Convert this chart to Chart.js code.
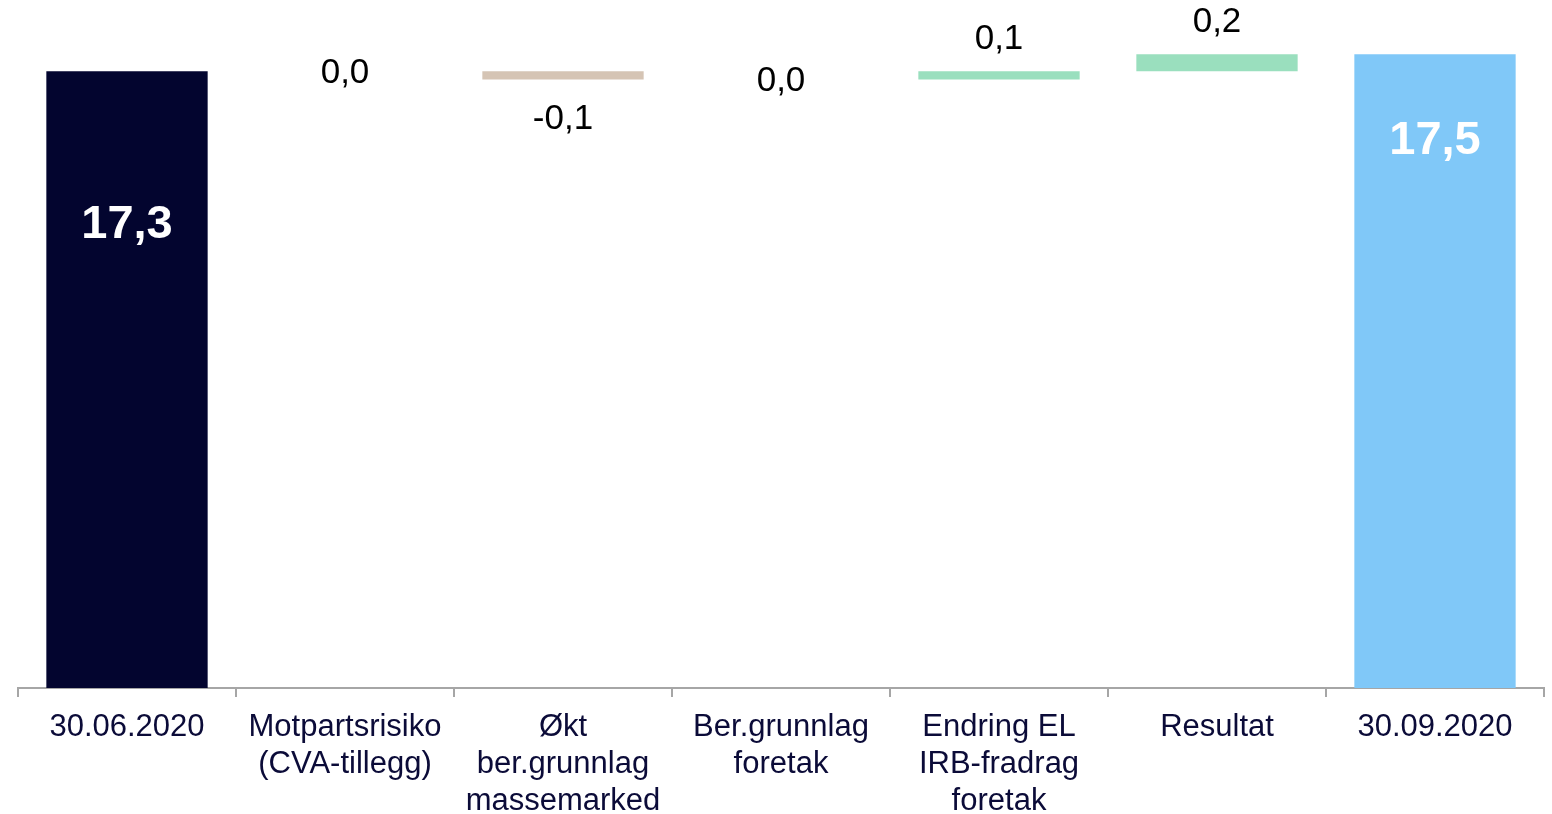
<!DOCTYPE html>
<html lang="no">
<head>
    <meta charset="UTF-8">
    <title>Kapitaldekning</title>
    <style>
        html, body { margin: 0; padding: 0; background: #fff; }
        #wrap { width: 1552px; height: 814px; }
    </style>
</head>
<body>
    <div id="wrap"><canvas id="chart"></canvas></div>

    <script src="https://cdn.jsdelivr.net/npm/chart.js"></script>
    <script>
        // data
        var categories = [
            '30.06.2020',
            ['Motpartsrisiko', '(CVA-tillegg)'],
            ['Økt', 'ber.grunnlag', 'massemarked'],
            ['Ber.grunnlag', 'foretak'],
            ['Endring EL', 'IRB-fradrag', 'foretak'],
            'Resultat',
            '30.09.2020'
        ];
        var values = [17.3, 0.0, -0.1, 0.0, 0.1, 0.2, 17.5];
        var isTotal = [true, false, false, false, false, false, true];
        var yMin = 10;
        var yMax = 18;

        var navy = '#03052f';
        var lightBlue = '#80c8f8';
        var green = '#9adfbe';
        var beige = '#d5c4b4';

        // build floating bars for the waterfall
        var ranges = [];
        var colors = [];
        var running = 0;
        values.forEach(function(v, i) {
            if (isTotal[i]) {
                ranges.push([yMin, v]);
                running = v;
                colors.push(i === 0 ? navy : lightBlue);
            } else {
                ranges.push([running, running + v]);
                running = running + v;
                colors.push(v < 0 ? beige : green);
            }
        });

        function fmt(v) {
            return v.toFixed(1).replace('.', ',');
        }

        var labelPlugin = {
            id: 'waterfallLabels',
            afterDatasetsDraw: function(chart) {
                var ctx = chart.ctx;
                var meta = chart.getDatasetMeta(0);
                var totalOffsets = { 0: 154, 6: 87 };
                ctx.save();
                ctx.textAlign = 'center';
                ctx.textBaseline = 'middle';
                meta.data.forEach(function(bar, i) {
                    var v = values[i];
                    var top = Math.min(bar.y, bar.base);
                    var bottom = Math.max(bar.y, bar.base);
                    if (isTotal[i]) {
                        ctx.font = 'bold 47px "Liberation Sans", Arial, sans-serif';
                        ctx.fillStyle = '#ffffff';
                        ctx.fillText(fmt(v), bar.x, top + totalOffsets[i]);
                        return;
                    }
                    ctx.font = '35px "Liberation Sans", Arial, sans-serif';
                    ctx.fillStyle = '#000000';
                    if (v > 0) {
                        ctx.fillText(fmt(v), bar.x, top - 32);
                    } else if (v < 0) {
                        ctx.fillText('-' + fmt(-v), bar.x, bottom + 40);
                    } else {
                        ctx.fillText(fmt(v), bar.x, top + 2);
                    }
                });
                ctx.restore();
            }
        };

        var ctx = document.getElementById('chart').getContext('2d');
        var myChart = new Chart(ctx, {
            type: 'bar',
            data: {
                labels: categories,
                datasets: [{
                    data: ranges,
                    backgroundColor: colors,
                    borderWidth: 0,
                    barPercentage: 0.74,
                    categoryPercentage: 1.0
                }]
            },
            options: {
                responsive: true,
                maintainAspectRatio: false,
                animation: false,
                layout: {
                    padding: { left: 18, right: 8, top: 12, bottom: 0 }
                },
                plugins: {
                    legend: { display: false },
                    tooltip: { enabled: false }
                },
                scales: {
                    y: {
                        display: false,
                        min: yMin,
                        max: yMax
                    },
                    x: {
                        afterFit: function(scale) { scale.height = 126; },
                        border: { color: '#a6a6a6', width: 2 },
                        grid: {
                            drawOnChartArea: false,
                            drawTicks: true,
                            tickLength: 9,
                            color: '#a6a6a6',
                            lineWidth: 2,
                            offset: true
                        },
                        ticks: {
                            autoSkip: false,
                            maxRotation: 0,
                            minRotation: 0,
                            padding: 12,
                            color: '#0b0b38',
                            font: { family: '"Liberation Sans", Arial, sans-serif', size: 31, lineHeight: 1.19 }
                        }
                    }
                }
            },
            plugins: [labelPlugin]
        });
    </script>
</body>
</html>
